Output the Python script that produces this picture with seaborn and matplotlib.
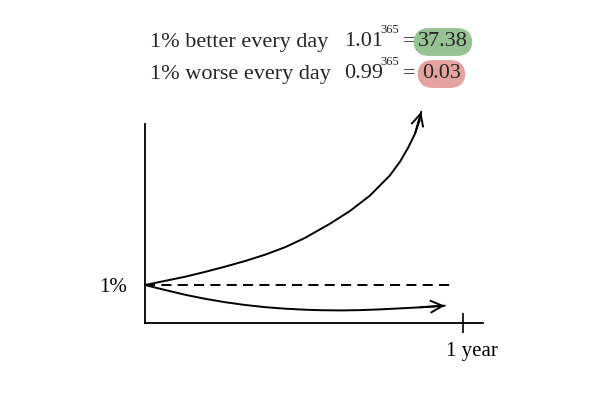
import matplotlib
matplotlib.use("Agg")
import matplotlib.pyplot as plt
import matplotlib.transforms as mtransforms
import seaborn as sns
import pandas as pd

# ---- data (x: days, y: relative level, 1 = "1%") ----
days_up = [0, 23, 46, 69, 92, 115, 138, 161, 184, 212, 235, 258, 281, 293, 302, 310, 315, 317]
level_up = [1.0, 1.11, 1.22, 1.35, 1.49, 1.64, 1.81, 2.01, 2.26, 2.63, 2.97, 3.38, 3.92,
            4.30, 4.66, 5.04, 5.38, 5.62]
days_down = [0, 23, 46, 69, 92, 115, 138, 161, 184, 201, 224, 247, 270, 293, 316, 331, 344]
level_down = [1.0, 0.867, 0.740, 0.632, 0.541, 0.467, 0.409, 0.368, 0.341, 0.328, 0.322,
              0.330, 0.350, 0.377, 0.405, 0.428, 0.448]
baseline_days = [0, 356]
baseline_level = [1.0, 1.0]
x_tick_values = [365]
x_tick_labels = ["1 year"]
y_tick_values = [1.0]
y_tick_labels = ["1%"]
line_labels = ["1% better every day", "1% worse every day"]
bases = ["1.01", "0.99"]
exponent = "365"
results = ["37.38", "0.03"]
highlight_colors = ["#97c293", "#e4a2a0"]

sns.set_style("white")
plt.rcParams["font.family"] = ["Liberation Serif", "DejaVu Serif"]

fig = plt.figure(figsize=(6, 4), dpi=100)
ax = fig.add_axes([145 / 600, 1 - 322.5 / 400, (483 - 145) / 600, (322.5 - 124) / 400])

up = pd.DataFrame({"day": days_up, "level": level_up})
down = pd.DataFrame({"day": days_down, "level": level_down})
sns.lineplot(data=up, x="day", y="level", sort=False, estimator=None, color="black",
             lw=1.4, ax=ax, clip_on=False)
sns.lineplot(data=down, x="day", y="level", sort=False, estimator=None, color="black",
             lw=1.4, ax=ax, clip_on=False)
sns.lineplot(x=baseline_days, y=baseline_level, color="black", lw=1.4,
             linestyle=(0, (5.2, 3.2)), ax=ax)

for xs, ys in [(days_up, level_up), (days_down, level_down)]:
    ax.annotate("", xy=(xs[-1], ys[-1]), xytext=(xs[-3], ys[-3]),
                arrowprops=dict(arrowstyle="->,head_length=0.6,head_width=0.3",
                                lw=1.4, color="black", shrinkA=0, shrinkB=0,
                                mutation_scale=14),
                annotation_clip=False)

ax.set_xlim(0, (483 - 145) / 0.8712)
ax.set_ylim(0, (322.5 - 124) / 37.5)
for s in ["top", "right"]:
    ax.spines[s].set_visible(False)
for s in ["left", "bottom"]:
    ax.spines[s].set_color("black")
    ax.spines[s].set_linewidth(1.3)

ax.set_xticks(x_tick_values)
ax.set_xticklabels(x_tick_labels, fontsize=15)
ax.set_yticks(y_tick_values)
ax.set_yticklabels(y_tick_labels, fontsize=15)
ax.tick_params(axis="x", bottom=True, direction="inout", length=14.5, width=1.2, pad=7,
               colors="black")
ax.tick_params(axis="y", left=False, length=0, pad=13, colors="black")
offset = mtransforms.ScaledTranslation(9 / 100, 0, fig.dpi_scale_trans)
for lab in ax.get_xticklabels():
    lab.set_transform(lab.get_transform() + offset)
ax.set_xlabel("")
ax.set_ylabel("")

# ---- header text ----
ys_px = [42, 74]
for i in range(2):
    y = 1 - ys_px[i] / 400
    fig.text(150 / 600, y, line_labels[i], fontsize=16, va="center", ha="left")
    fig.text(344 / 600, y, bases[i], fontsize=16, va="center", ha="left")
    fig.text(380 / 600, y + 12 / 400, exponent, fontsize=9, va="center", ha="left")
    fig.text(403 / 600, y, "=", fontsize=16, va="center", ha="left")
    fig.text((422 if i else 418) / 600, y, results[i], fontsize=16, va="center", ha="left",
             bbox=dict(boxstyle="round,pad=0.2,rounding_size=0.7",
                       facecolor=highlight_colors[i], edgecolor="none"))

fig.savefig("out.png", dpi=100, facecolor="white")
